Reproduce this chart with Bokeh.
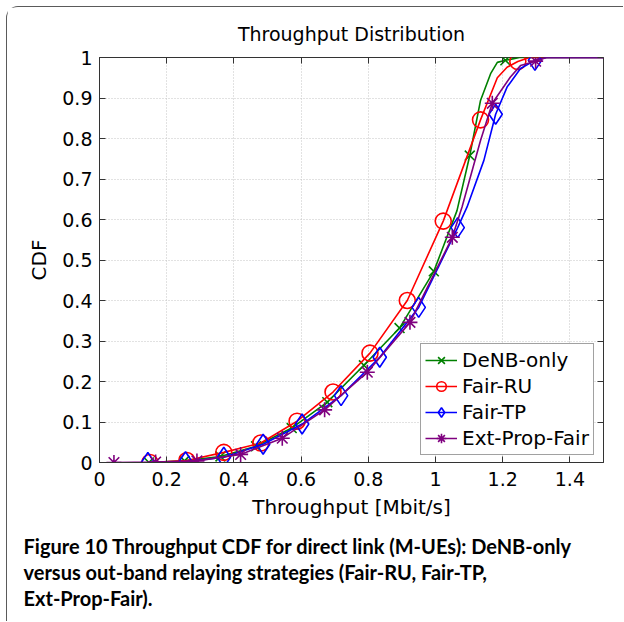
from bokeh.plotting import figure
from bokeh.models import (Range1d, FixedTicker, LinearAxis, Legend, LegendItem, Title)
from bokeh.embed import file_html
from bokeh.resources import INLINE

# ---- data ----
x_ticks = [0, 0.2, 0.4, 0.6, 0.8, 1.0, 1.2, 1.4]
x_tick_labels = ["0", "0.2", "0.4", "0.6", "0.8", "1", "1.2", "1.4"]
y_ticks = [0, 0.1, 0.2, 0.3, 0.4, 0.5, 0.6, 0.7, 0.8, 0.9, 1.0]
y_tick_labels = ["0", "0.1", "0.2", "0.3", "0.4", "0.5", "0.6", "0.7", "0.8", "0.9", "1"]

series_names = ["DeNB-only", "Fair-RU", "Fair-TP", "Ext-Prop-Fair"]

# marker points
denb_x = [0.147, 0.253, 0.36, 0.466, 0.572, 0.678, 0.787, 0.893, 0.995, 1.102, 1.208]
denb_y = [0.0, 0.004, 0.015, 0.04, 0.085, 0.149, 0.24, 0.332, 0.472, 0.758, 0.993]
ru_x = [0.15, 0.26, 0.37, 0.48, 0.588, 0.695, 0.805, 0.916, 1.023, 1.134, 1.245]
ru_y = [0.0, 0.005, 0.025, 0.048, 0.102, 0.174, 0.27, 0.40, 0.596, 0.846, 0.99]
tp_x = [0.144, 0.256, 0.37, 0.487, 0.603, 0.719, 0.834, 0.95, 1.066, 1.179, 1.296]
tp_y = [0.0, 0.002, 0.013, 0.045, 0.095, 0.165, 0.26, 0.383, 0.58, 0.86, 0.993]
epf_x = [0.043, 0.167, 0.29, 0.42, 0.544, 0.67, 0.797, 0.924, 1.05, 1.169, 1.298]
epf_y = [0.0, 0.001, 0.004, 0.02, 0.06, 0.13, 0.223, 0.346, 0.556, 0.887, 0.991]

# extra points (between / after markers)
denb_extra_x = [1.064, 1.134, 1.164, 1.184, 1.25, 1.5]
denb_extra_y = [0.622, 0.894, 0.96, 0.988, 1.0, 1.0]
ru_extra_x = [1.184, 1.213, 1.28, 1.5]
ru_extra_y = [0.95, 0.976, 1.0, 1.0]
tp_extra_x = [1.094, 1.144, 1.213, 1.253, 1.33, 1.5]
tp_extra_y = [0.631, 0.746, 0.927, 0.973, 1.0, 1.0]
epf_extra_x = [1.079, 1.134, 1.223, 1.253, 1.33, 1.5]
epf_extra_y = [0.631, 0.795, 0.952, 0.98, 1.0, 1.0]

caption_lines = ["Figure 10 Throughput CDF for direct link (M-UEs): DeNB-only",
                 "versus out-band relaying strategies (Fair-RU, Fair-TP,",
                 "Ext-Prop-Fair)."]

colors = ["#008000", "#ff0000", "#0000ff", "#7f007f"]
markers = ["x", "circle", "diamond", "asterisk"]
sizes = [14, 16, 20, 15]

FONT = "DejaVu Sans"
CAP_FONT = "Lato"

p = figure(width=617, height=615, output_backend="svg", toolbar_location=None,
           x_range=Range1d(0, 1.5), y_range=Range1d(0, 1),
           min_border_left=92, min_border_right=21, min_border_top=50, min_border_bottom=160,
           background_fill_color="white", border_fill_color="white")
p.styles = {"margin-left": "6px", "margin-top": "6px",
            "border-left": "1px solid #5a5a5a", "border-top": "1px solid #5a5a5a",
            "border-top-left-radius": "12px"}

p.outline_line_color = "#333333"
p.outline_line_width = 1

# title
p.title.text = "Throughput Distribution"
p.title.align = "center"
p.title.text_font = FONT
p.title.text_font_size = "19px"
p.title.text_font_style = "normal"
p.title.text_color = "black"
p.title.standoff = 26

# axes
for ax, ticks, labels in ((p.xaxis[0], x_ticks, x_tick_labels), (p.yaxis[0], y_ticks, y_tick_labels)):
    ax.ticker = FixedTicker(ticks=ticks)
    ax.major_label_overrides = {t: l for t, l in zip(ticks, labels)}
    ax.minor_tick_line_color = None
    ax.major_tick_in = 6
    ax.major_tick_out = 0
    ax.axis_line_color = "#333333"
    ax.major_tick_line_color = "#333333"
    ax.major_label_text_font = FONT
    ax.major_label_text_font_size = "19px"
    ax.major_label_text_color = "black"
    ax.axis_label_text_font = FONT
    ax.axis_label_text_font_size = "20px"
    ax.axis_label_text_font_style = "normal"
    ax.axis_label_text_color = "black"

p.xaxis[0].axis_label = "Throughput [Mbit/s]"
p.yaxis[0].axis_label = "CDF"
p.xaxis[0].major_label_standoff = 9
p.yaxis[0].major_label_standoff = 7
p.xaxis[0].axis_label_standoff = 6
p.yaxis[0].axis_label_standoff = 8

top_ax = LinearAxis(ticker=FixedTicker(ticks=x_ticks), major_label_text_font_size="1px",
                    major_label_text_color=None,
                    major_tick_in=6, major_tick_out=0, minor_tick_line_color=None,
                    axis_line_color=None, major_tick_line_color="#333333", major_label_standoff=0)
right_ax = LinearAxis(ticker=FixedTicker(ticks=y_ticks), major_label_text_font_size="1px",
                      major_label_text_color=None,
                      major_tick_in=6, major_tick_out=0, minor_tick_line_color=None,
                      axis_line_color=None, major_tick_line_color="#333333", major_label_standoff=0)
p.add_layout(top_ax, "above")
p.add_layout(right_ax, "right")

# grid
p.xgrid.ticker = FixedTicker(ticks=x_ticks)
p.ygrid.ticker = FixedTicker(ticks=y_ticks)
for g in (p.xgrid[0], p.ygrid[0]):
    g.grid_line_color = "#c4c4c4"
    g.grid_line_dash = "1 2"
    g.grid_line_width = 1

# series
data = [
    (denb_x, denb_y, denb_extra_x, denb_extra_y),
    (ru_x, ru_y, ru_extra_x, ru_extra_y),
    (tp_x, tp_y, tp_extra_x, tp_extra_y),
    (epf_x, epf_y, epf_extra_x, epf_extra_y),
]
items = []
for (mx, my, ex, ey), name, c, m, s in zip(data, series_names, colors, markers, sizes):
    pts = sorted(zip(list(mx) + list(ex), list(my) + list(ey)))
    lx = [a for a, _ in pts]
    ly = [b for _, b in pts]
    ln = p.line(lx, ly, line_color=c, line_width=1.6)
    sc = p.scatter(mx, my, marker=m, size=s, line_color=c, fill_color=None, line_width=1.6)
    items.append(LegendItem(label=name, renderers=[ln, sc]))

legend = Legend(items=items, location=(321, 7), orientation="vertical",
                label_text_font=FONT, label_text_font_size="20px", label_text_color="black",
                glyph_width=32, glyph_height=24, label_height=24, label_standoff=5,
                spacing=2, padding=4, margin=0,
                border_line_color="#444444", border_line_width=1,
                background_fill_color="white", background_fill_alpha=1.0)
p.add_layout(legend, "center")

# caption (below the x axis), one multi-line block
p.add_layout(Title(text="\n".join(caption_lines), align="left", offset=-76, standoff=20,
                   vertical_align="bottom",
                   text_font=CAP_FONT, text_font_size="20px", text_font_style="bold",
                   text_line_height=1.1, text_color="black"), "below")

open("out.html", "w").write(file_html(p, INLINE))
